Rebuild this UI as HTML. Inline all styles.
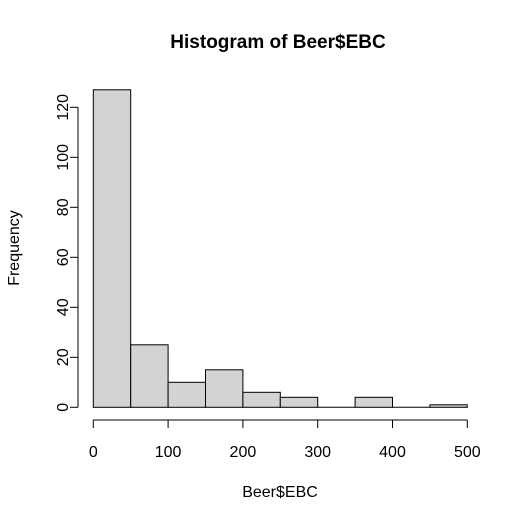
<!DOCTYPE html>
<html><head><meta charset="utf-8"><style>body{margin:0;background:#fff}svg{display:block;font-family:"Liberation Sans",Arial,sans-serif}</style></head>
<body>
<svg id="chart" width="523" height="518" xmlns="http://www.w3.org/2000/svg">
<rect width="523" height="518" fill="#fff"/>
<text x="278" y="48" text-anchor="middle" font-size="19" font-weight="bold">Histogram of Beer$EBC</text>
<text x="280" y="497" text-anchor="middle" font-size="16">Beer$EBC</text>
<text transform="translate(19,248) rotate(-90)" text-anchor="middle" font-size="16">Frequency</text>
<g id="bars"></g><g id="xaxis"></g><g id="yaxis"></g>
</svg>
<script>
const binEdges=[0,50,100,150,200,250,300,350,400,450,500];
const counts=[127,25,10,15,6,4,0,4,0,1];
const xTicks=[0,100,200,300,400,500];
const yTicks=[0,20,40,60,80,100,120];
const ns="http://www.w3.org/2000/svg";
const X=v=>93.3+v*(467.3-93.3)/500;
const Y=v=>407.3-v*(50/20);
function mk(t,a,p){const e=document.createElementNS(ns,t);for(const k in a)e.setAttribute(k,a[k]);p.appendChild(e);return e;}
const bars=document.getElementById('bars');
counts.forEach((c,i)=>{
 let r;
 if(c>0){r=mk('rect',{x:X(binEdges[i]),y:Y(c),width:X(binEdges[i+1])-X(binEdges[i]),height:Y(0)-Y(c),fill:'#d3d3d3',stroke:'#000','stroke-width':1},bars);}
 else{r=mk('line',{x1:X(binEdges[i]),x2:X(binEdges[i+1]),y1:Y(0),y2:Y(0),stroke:'#000'},bars);}
 
 
});
const xa=document.getElementById('xaxis');


mk('line',{x1:X(xTicks[0]),x2:X(xTicks[xTicks.length-1]),y1:420,y2:420,stroke:'#000'},xa);
xTicks.forEach(t=>{
 mk('line',{x1:X(t),x2:X(t),y1:420,y2:428,stroke:'#000'},xa);
 const tx=mk('text',{x:X(t),y:457,'text-anchor':'middle','font-size':16},xa);tx.textContent=t;
 
 
});
const ya=document.getElementById('yaxis');


mk('line',{x1:78,x2:78,y1:Y(yTicks[0]),y2:Y(yTicks[yTicks.length-1]),stroke:'#000'},ya);
yTicks.forEach(t=>{
 mk('line',{x1:70,x2:78,y1:Y(t),y2:Y(t),stroke:'#000'},ya);
 const tx=mk('text',{transform:`translate(68,${Y(t)}) rotate(-90)`,'text-anchor':'middle','font-size':16},ya);tx.textContent=t;
 
 
});
</script>
</body></html>
